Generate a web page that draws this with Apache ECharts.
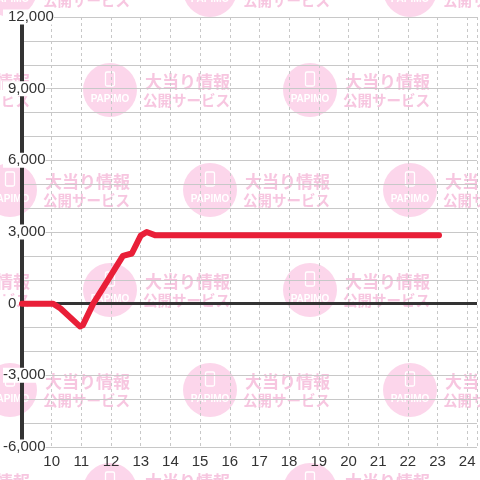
<!DOCTYPE html>
<html>
<head>
<meta charset="utf-8">
<script src="https://cdn.jsdelivr.net/npm/echarts@6/dist/echarts.min.js"></script>
<style>
  html, body { margin: 0; padding: 0; background: #fff; }
  #chart { width: 480px; height: 480px; }
</style>
</head>
<body>
<div id="chart"></div>
<script>
// 時刻(時) と 差枚数
const hours = [9, 10.05, 10.3, 10.95, 11.05, 11.4, 11.8, 12.4, 12.7, 13.0, 13.2, 13.5, 23.05];
const diffs = [0, 0, -200, -950, -900, 0, 800, 2000, 2100, 2850, 3000, 2860, 2860];
const yTicks = [-6000, -3000, 0, 3000, 6000, 9000, 12000];

// 背景の透かし (PAPIMO)
function watermark() {
  let els = [];
  let rows = [-10, 90, 190, 290, 390, 490];
  rows.forEach((cy, i) => {
    let start = (i % 2 === 0) ? 10 : 110;
    for (let cx = start - 200; cx < 600; cx += 200) {
      els.push({
        type: 'circle', z: -10, silent: true,
        shape: { cx: cx, cy: cy, r: 27 },
        style: { fill: '#fcd6eb' }
      });
      els.push({
        type: 'rect', z: -9, silent: true,
        shape: { x: cx - 4.5, y: cy - 18, width: 9, height: 14, r: 1.5 },
        style: { fill: 'none', stroke: '#fff', lineWidth: 1.3 }
      });
      els.push({
        type: 'text', z: -9, silent: true,
        x: cx, y: cy + 9,
        style: {
          text: 'PAPIMO', fill: '#fff', align: 'center', verticalAlign: 'middle',
          font: 'bold 10px "Liberation Sans", sans-serif'
        }
      });
      els.push({
        type: 'text', z: -9, silent: true,
        x: cx + 35, y: cy - 8,
        style: {
          text: '大当り情報', fill: '#f7c6e0', verticalAlign: 'middle',
          font: 'bold 17px "Noto Sans CJK JP", sans-serif'
        }
      });
      els.push({
        type: 'text', z: -9, silent: true,
        x: cx + 33, y: cy + 10,
        style: {
          text: '公開サービス', fill: '#f7c6e0', verticalAlign: 'middle',
          font: 'bold 14.5px "Noto Sans CJK JP", sans-serif'
        }
      });
    }
  });
  return els;
}

let myChart = echarts.init(document.getElementById('chart'));

let option = {
  backgroundColor: '#fff',
  animation: false,
  graphic: watermark(),
  grid: {
    left: 21,
    right: 0,
    top: 17,
    bottom: 33
  },
  xAxis: {
    type: 'value',
    min: 9,
    max: 24.33,
    interval: 1,
    axisLine: { show: false },
    axisTick: { show: false },
    axisLabel: {
      color: '#333',
      fontSize: 15,
      fontFamily: '"Liberation Sans", Arial, sans-serif',
      margin: 7,
      showMinLabel: false,
      formatter: v => (Number.isInteger(v) && v > 9) ? String(v) : ''
    },
    splitLine: {
      show: true,
      lineStyle: { color: '#c8c8c8', type: [3, 3], width: 1 }
    }
  },
  yAxis: {
    type: 'value',
    min: -6000,
    max: 12000,
    interval: 1000,
    axisLine: {
      show: true,
      lineStyle: { color: '#333', width: 4 }
    },
    axisTick: { show: false },
    axisLabel: {
      align: 'left',
      margin: 19,
      color: '#333',
      fontSize: 15,
      fontFamily: '"Liberation Sans", Arial, sans-serif',
      backgroundColor: '#fff',
      formatter: v => {
        if (yTicks.indexOf(v) < 0) return '';
        let s = v.toLocaleString('en-US');
        return v < 0 ? '{n|' + s + '}' : '{p|' + s + '}';
      },
      rich: {
        p: { padding: [0, 0, 0, 5], fontSize: 15, color: '#333', fontFamily: '"Liberation Sans", Arial, sans-serif' },
        n: { padding: [0, 0, 0, 0], fontSize: 15, color: '#333', fontFamily: '"Liberation Sans", Arial, sans-serif' }
      }
    },
    splitLine: {
      show: true,
      lineStyle: { color: '#c8c8c8', width: 1 }
    }
  },
  series: [{
    name: '差枚数',
    type: 'line',
    data: hours.map((h, i) => [h, diffs[i]]),
    symbol: 'none',
    smooth: false,
    lineStyle: {
      color: '#e91f38',
      width: 6,
      join: 'round',
      cap: 'round'
    },
    markLine: {
      z: 1,
      silent: true,
      symbol: 'none',
      label: { show: false },
      lineStyle: { color: '#333', width: 3, type: 'solid' },
      data: [{ yAxis: 0 }]
    }
  }]
};

myChart.setOption(option, true);

window.addEventListener('resize', () => {
  myChart.resize();
});
</script>
</body>
</html>
